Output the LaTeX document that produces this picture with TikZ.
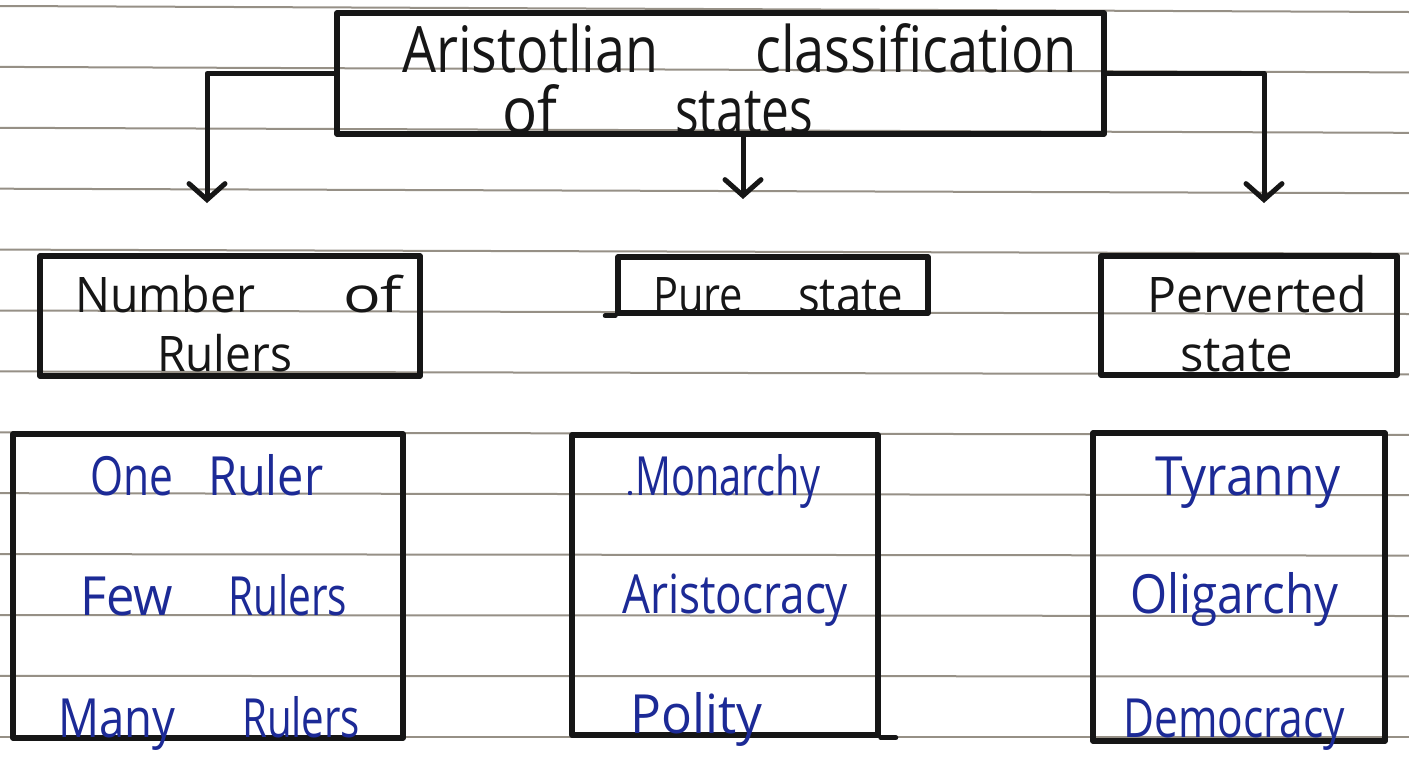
\documentclass[tikz,border=0pt]{standalone}
\usepackage{fontspec}
\setmainfont{Open Sans}
\usepackage{graphicx}
\usetikzlibrary{arrows.meta,calc}

\definecolor{ink}{RGB}{22,22,22}
\definecolor{inkblue}{RGB}{28,42,150}
\definecolor{rule}{RGB}{150,144,134}

% squeeze a word to a given width (in pt) while keeping its height
\newcommand\hw[2]{\resizebox{#1pt}{\height}{#2}}

\tikzset{
  box/.style={draw=ink, line width=5.5pt, line join=round, rectangle, inner sep=0pt},
  link/.style={draw=ink, line width=5pt, line join=round, line cap=round,
    -{Straight Barb[length=16pt,width=36pt,line cap=round]}},
  titletext/.style={text=ink, inner sep=0pt, anchor=base west,
    font=\fontsize{64pt}{66pt}\selectfont},
  headtext/.style={text=ink, inner sep=0pt, anchor=base west,
    font=\fontsize{49pt}{51pt}\selectfont},
  itemtext/.style={text=inkblue, inner sep=0pt, anchor=base west,
    font=\fontsize{54pt}{56pt}\selectfont},
  ruled/.style={draw=rule, line width=2pt}
}

\begin{document}
\begin{tikzpicture}[x=1pt,y=-1pt]
\useasboundingbox[fill=white] (0,0) rectangle (1409,764);

% ruled notebook lines
\foreach \k in {0,...,12}
  \draw[ruled] (0,{6+60.9*\k}) -- (1409,{12+60.4*\k});

% boxes
\node[box, minimum width=767pt, minimum height=121pt] (title) at (720.5,73.5) {};
\node[box, minimum width=380pt, minimum height=120pt] (num) at (230,316) {};
\node[box, minimum width=310pt, minimum height=56pt] (pure) at (773,285) {};
\node[box, minimum width=296pt, minimum height=119pt] (perv) at (1249,315.5) {};
\node[box, minimum width=390pt, minimum height=304pt] (numlist) at (208,586) {};
\node[box, minimum width=306pt, minimum height=300pt] (purelist) at (725,585) {};
\node[box, minimum width=292pt, minimum height=308pt] (pervlist) at (1239,587) {};

% pen overshoots at box corners
\draw[ink, line width=5pt, line cap=round] (pure.south west) -- ++(-10,0);
\draw[ink, line width=5pt, line cap=round] (purelist.south east) -- ++(15,0);

% arrow ends
\coordinate (endL) at (207,203);
\coordinate (endM) at (743,199);
\coordinate (endR) at (1264,203);

% connectors
\draw[link] (title.west) -| (endL);
\draw[link] (title.south -| endM) -- (endM);
\draw[link] (title.east) -| (endR);

% title
\node[titletext] (t1) at (402,72) {\hw{256}{Aristotlian}\hspace{97pt}\hw{322}{classification}};
\node[titletext] (t2) at (502,133) {\hw{55}{of}\hspace{118pt}\hw{138}{states}};

% headings
\node[headtext] (n1) at (75,312) {\hw{180}{Number}\hspace{88pt}\hw{59}{of}};
\node[headtext] (n2) at (157,371) {\hw{135}{Rulers}};
\node[headtext] (p1) at (653,312) {\hw{90}{Pure}\hspace{55pt}\hw{105}{state}};
\node[headtext] (v1) at (1147,312) {\hw{220}{Perverted}};
\node[headtext] (v2) at (1180,371) {\hw{113}{state}};

% forms of government
\node[itemtext] (r1) at (90,495) {\hw{83}{One}\hspace{35pt}\hw{115}{Ruler}};
\node[itemtext] (r2) at (80,615) {\hw{93}{Few}\hspace{55pt}\hw{119}{Rulers}};
\node[itemtext] (r3) at (58,737) {\hw{117}{Many}\hspace{67pt}\hw{118}{Rulers}};

\node[itemtext] (g1) at (635,495) {\hw{185}{Monarchy}};
\fill[inkblue] (630,493) circle (2.2pt);
\node[itemtext] (g2) at (622,613) {\hw{226}{Aristocracy}};
\node[itemtext] (g3) at (630,733) {\hw{132}{Polity}};

\node[itemtext] (d1) at (1155,495) {\hw{185}{Tyranny}};
\node[itemtext] (d2) at (1130,613) {\hw{208}{Oligarchy}};
\node[itemtext] (d3) at (1123,737) {\hw{222}{Democracy}};
\end{tikzpicture}
\end{document}
